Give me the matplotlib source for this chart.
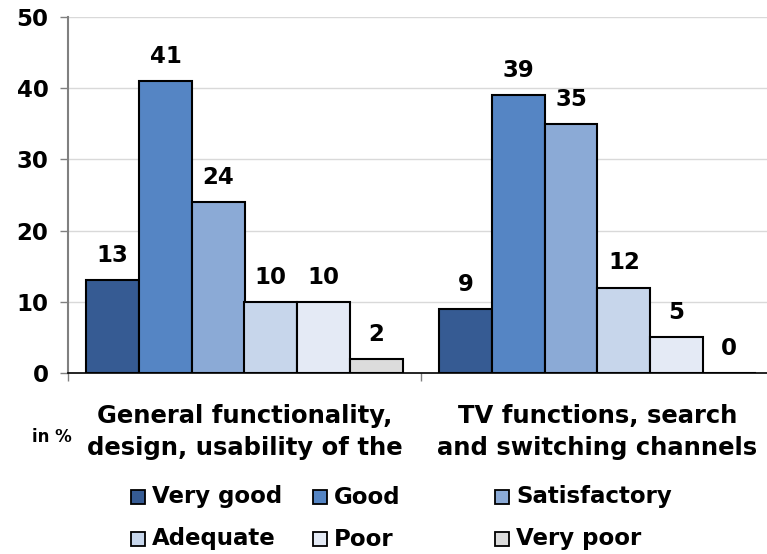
import matplotlib
matplotlib.use("Agg")
import matplotlib.pyplot as plt
from matplotlib.patches import Rectangle
import numpy as np

plt.rcParams["font.family"] = ["DejaVu Sans"]
plt.rcParams["font.weight"] = "bold"

groups = ["General functionality,\ndesign, usability of the",
          "TV functions, search\nand switching channels"]
ratings = ["Very good", "Good", "Satisfactory", "Adequate", "Poor", "Very poor"]
shares = {
    "Very good": [13, 9],
    "Good": [41, 39],
    "Satisfactory": [24, 35],
    "Adequate": [10, 12],
    "Poor": [10, 5],
    "Very poor": [2, 0],
}
colors = ["#365b93", "#5585c4", "#8baad6", "#c7d6eb", "#e4eaf5", "#dcdcdc"]
yticks = [0, 10, 20, 30, 40, 50]

W, H = 767, 554
fig = plt.figure(figsize=(W / 100, H / 100), dpi=100)
ax = fig.add_axes([68 / W, 1 - 373 / H, 706 / W, 356 / H])

x = np.arange(len(groups))
width = 0.1493
for i, (name, col) in enumerate(zip(ratings, colors)):
    pos = x - 2.5 * width + i * width
    vals = shares[name]
    ax.bar(pos, vals, width, color=col, edgecolor="black", linewidth=1.5,
           zorder=3, label=name)
    for px, v in zip(pos, vals):
        ax.annotate(str(v), (px, v), xytext=(0, 9.5), textcoords="offset points",
                    ha="center", va="bottom", fontsize=16.5, fontweight="bold")

ax.set_xlim(-0.5, 1.5)
ax.set_ylim(0, 50)
ax.set_yticks(yticks)
ax.tick_params(axis="y", labelsize=16.5, length=6, width=1, color="#808080", pad=8)
ax.yaxis.get_major_ticks()[0].tick1line.set_color("black")
ax.grid(axis="y", color="#d9d9d9", linewidth=1, zorder=0)

ax.set_xticks(x)
ax.set_xticklabels(groups, fontsize=17.5)
for lbl in ax.get_xticklabels():
    lbl.set_linespacing(1.45)
ax.tick_params(axis="x", which="major", length=0, pad=22)
ax.set_xticks([-0.5, 0.5], minor=True)
ax.tick_params(axis="x", which="minor", length=6, width=1, color="#808080")

for s in ["top", "right"]:
    ax.spines[s].set_visible(False)
ax.spines["left"].set_color("#808080")
ax.spines["left"].set_linewidth(1.5)
ax.spines["bottom"].set_color("black")
ax.spines["bottom"].set_linewidth(1.2)
ax.spines["bottom"].set_zorder(4)

fig.text(32 / W, 1 - 442 / H, "in %", fontsize=12, fontweight="bold")

# legend laid out in an even 3x2 grid
fig.patches.append(Rectangle((100 / W, 0), 660 / W, 1 - 475 / H,
                             transform=fig.transFigure, facecolor="white",
                             edgecolor="none", zorder=5))
col_x = [131, 313, 495]
row_y = [497, 539]
for i, (name, col) in enumerate(zip(ratings, colors)):
    cx = col_x[i % 3]
    cy = row_y[i // 3]
    fig.patches.append(Rectangle((cx / W, 1 - (cy + 7) / H), 14 / W, 14 / H,
                                 transform=fig.transFigure, facecolor=col,
                                 edgecolor="black", linewidth=1.3, zorder=6))
    fig.text((cx + 21) / W, 1 - cy / H, name, fontsize=16.5, fontweight="bold",
             va="center", zorder=7)

fig.savefig("out.png", dpi=100)
